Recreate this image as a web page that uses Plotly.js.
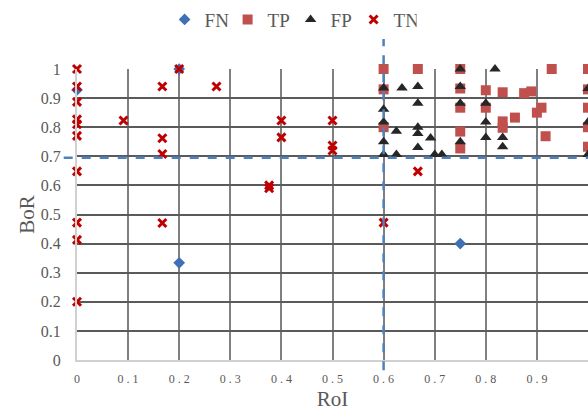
<!DOCTYPE html>
<html>
<head>
<meta charset="utf-8">
<script src="https://cdn.plot.ly/plotly-3.0.1.min.js"></script>
<style>html,body{margin:0;padding:0;background:#fff;}#chart{width:588px;height:412px;}</style>
</head>
<body>
<div id="chart"></div>
<script>
// ---- data ----
const fnX = [0, 0.2, 0.2, 0.75];
const fnY = [0.928, 1.0, 0.334, 0.4];

const tpX = [0.6,0.667,0.75,0.929,1.0, 0.6,0.75,0.8,0.833,0.875,0.889,1.0, 0.75,0.8,0.909,0.9,0.857,0.833,0.833,0.6,0.75,0.917,1.0,1.0,0.75,1.0];
const tpY = [1.0,1.0,1.0,1.0,1.0, 0.93,0.933,0.927,0.92,0.917,0.923,0.93, 0.867,0.867,0.867,0.85,0.833,0.82,0.798,0.8,0.785,0.769,0.8,0.867,0.727,0.733];

const fpX = [0.75,0.818, 0.6,0.636,0.667,0.75, 0.667,0.75,0.8, 0.6, 0.6,0.625,0.667,0.667,0.8, 0.692, 0.6,0.75,0.8,0.833, 0.833,0.667, 0.6,0.625,0.7,0.714, 1.0,1.0,1.0];
const fpY = [1.0,1.0, 0.935,0.935,0.94,0.94, 0.882,0.882,0.882, 0.862, 0.818,0.786,0.8,0.778,0.818, 0.763, 0.75,0.75,0.765,0.765, 0.733,0.73, 0.706,0.706,0.706,0.706, 0.706,0.818,0.933];

const tnX = [0,0,0,0,0,0,0,0,0,0, 0.091, 0.167,0.167,0.167,0.167, 0.2, 0.273, 0.376,0.376, 0.4,0.4, 0.5,0.5,0.5, 0.6, 0.667];
const tnY = [1.0,0.94,0.887,0.827,0.81,0.77,0.648,0.472,0.413,0.2, 0.823, 0.94,0.762,0.708,0.471, 1.0, 0.94, 0.6,0.59, 0.823,0.765, 0.823,0.737,0.72, 0.472, 0.648];

const thresholdRoI = 0.6;
const thresholdBoR = 0.695;

const xTickVals = [0,0.1,0.2,0.3,0.4,0.5,0.6,0.7,0.8,0.9,1];
const xTickText = ["0","0 . 1","0 . 2","0 . 3","0 . 4","0 . 5","0 . 6","0 . 7","0 . 8","0 . 9","1"];
const yTickVals = [0,0.1,0.2,0.3,0.4,0.5,0.6,0.7,0.8,0.9,1];
const yTickText = ["0","0.1","0.2","0.3","0.4","0.5","0.6","0.7","0.8","0.9","1"];

const serif = "Liberation Serif, Times New Roman, serif";
const textGray = "#595959";

const traces = [
  {x: fnX, y: fnY, name: "FN", type: "scatter", mode: "markers", cliponaxis: false,
   marker: {symbol: "diamond", size: 9, color: "#3f6fb5"}},
  {x: tpX, y: tpY, name: "TP", type: "scatter", mode: "markers", cliponaxis: false,
   marker: {symbol: "square", size: 10, color: "#c0504d"}},
  {x: fpX, y: fpY, name: "FP", type: "scatter", mode: "markers", cliponaxis: false,
   marker: {symbol: "triangle-up", size: 10, color: "#262626"}},
  {x: tnX, y: tnY, name: "TN", type: "scatter", mode: "markers", cliponaxis: false,
   marker: {symbol: "x-thin", size: 8, color: "#c00000", line: {width: 3, color: "#c00000"}}}
];

const layout = {
  width: 588, height: 412,
  margin: {l: 77, r: 0, t: 67, b: 52},
  paper_bgcolor: "#fff", plot_bgcolor: "#fff",
  font: {family: serif, color: textGray},
  showlegend: true,
  legend: {orientation: "h", x: 0.418, xanchor: "center", y: 1.235, yanchor: "top",
           font: {family: serif, size: 19, color: textGray}, itemwidth: 30,
           entrywidth: 18, entrywidthmode: "pixels", tracegroupgap: 0},
  xaxis: {range: [0, 1], tickmode: "array", tickvals: xTickVals, ticktext: xTickText,
          showgrid: true, gridcolor: "#808080", gridwidth: 2,
          showline: true, linecolor: "#d0d0d0", linewidth: 2, zeroline: false,
          ticks: "", ticklabelstandoff: 7,
          tickfont: {family: serif, size: 12, color: textGray},
          title: {text: "RoI", font: {family: serif, size: 21, color: textGray}, standoff: 6}},
  yaxis: {range: [0, 1], tickmode: "array", tickvals: yTickVals, ticktext: yTickText,
          showgrid: true, gridcolor: "#5a5a5a", gridwidth: 2,
          showline: true, linecolor: "#d0d0d0", linewidth: 2, zeroline: false,
          ticks: "", ticklabelstandoff: 11,
          tickfont: {family: serif, size: 16, color: textGray},
          title: {text: "BoR", font: {family: serif, size: 21, color: textGray}, standoff: 0}},
  shapes: [
    {type: "line", xref: "x", yref: "paper", x0: thresholdRoI, x1: thresholdRoI, y0: -0.035, y1: 1.125,
     line: {color: "#4f81bd", width: 2.5, dash: "dash"}},
    {type: "line", xref: "paper", yref: "y", x0: -0.026, x1: 1, y0: thresholdBoR, y1: thresholdBoR,
     line: {color: "#4f81bd", width: 2.5, dash: "dash"}}
  ]
};

Plotly.newPlot("chart", traces, layout, {displayModeBar: false, staticPlot: true});
</script>
</body>
</html>
